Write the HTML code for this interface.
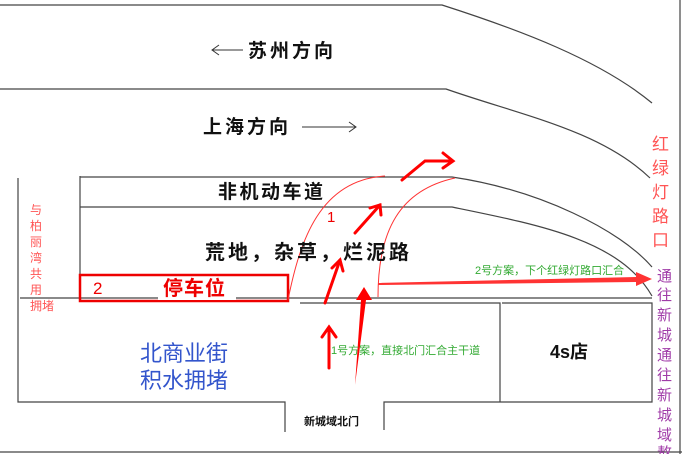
<!DOCTYPE html>
<html><head><meta charset="utf-8"><style>
body{margin:0;background:#fff}
svg{display:block;font-family:"Liberation Sans","Noto Sans CJK SC",sans-serif}
</style></head><body>
<svg width="682" height="454" viewBox="0 0 682 454" xmlns="http://www.w3.org/2000/svg">
<rect width="682" height="454" fill="#fff"/>
<g stroke="#444" stroke-width="1.2" fill="none">
<path d="M0 5 H442 C520 30 600 60 652 103"/>
<path d="M0 89 H446 C520 115 600 130 650 178"/>
<path d="M80 177 H452 C540 190 620 230 652 267"/>
<path d="M80 207 H452 C540 225 620 240 652 296"/>
<path d="M80 176 V298"/>
<path d="M20 298 H652"/>
<path d="M18 178 V402 H285 V432"/>
<path d="M300 303 H500 V402"/>
<path d="M502 303 H652 V402 H384 V430"/>
<path d="M0 452 H682"/>
<path d="M680 0 V454"/>
</g>
<!-- parking box -->
<rect x="80" y="275" width="208" height="26" fill="none" stroke="#e00" stroke-width="2.5"/>
<rect x="158" y="278" width="78" height="22" fill="#fff"/>
<text x="93" y="294" font-size="17" fill="#e00">2</text>
<text x="163" y="295" font-size="20" font-weight="bold" fill="#e00" letter-spacing="1">停车位</text>
<!-- thin red curves -->
<g stroke="#f33" stroke-width="1" fill="none">
<path d="M288 300 C300 240 320 180 385 176"/>
<path d="M378 297 C378 230 400 190 455 178"/>
</g>
<!-- red arrows -->
<g stroke="#f00" stroke-width="3" fill="none" stroke-linecap="round">
<path d="M325 303 L340 260"/><path d="M332 268 L340 260 L343 271"/>
<path d="M355 233 L380 205"/><path d="M370 208 L380 205 L381 215"/>
<path d="M402 180 L425 161 H450"/><path d="M443 153 L453 161 L443 168"/>
<path d="M329 368 V328"/><path d="M322 337 L329 327 L336 337"/>
</g>
<polygon points="355,385 361,300 356,300 364,287 372,300 366,300" fill="#f00"/>
<polygon points="378,283 636,277 636,272 652,279 636,286 636,282 378,285" fill="#f33"/>
<!-- texts -->
<g fill="#111" font-weight="bold">
<text x="248" y="57" font-size="19" letter-spacing="3">苏州方向</text>
<text x="203" y="133" font-size="19" letter-spacing="3">上海方向</text>
<text x="218" y="198" font-size="19" letter-spacing="2.5">非机动车道</text>
<text x="205" y="259" font-size="20" letter-spacing="3">荒地，杂草，烂泥路</text>
<text x="550" y="358" font-size="18">4s店</text>
<text x="304" y="425" font-size="11">新城域北门</text>
</g>
<g stroke="#333" stroke-width="1" fill="none">
<path d="M243 50 H212 M219 45 L212 50 L219 55"/>
<path d="M302 127 H356 M349 122 L356 127 L349 132"/>
</g>
<text x="327" y="222" font-size="15" fill="#e00">1</text>
<text x="140" y="361" font-size="22" fill="#3355cc">北商业街</text>
<text x="140" y="388" font-size="22" fill="#3355cc">积水拥堵</text>
<text x="331" y="354" font-size="11" fill="#3a3">1号方案，直接北门汇合主干道</text>
<text x="475" y="274" font-size="11" fill="#3a3">2号方案，下个红绿灯路口汇合</text>
<g font-size="12" fill="#f55">
<text x="30" y="214">与</text><text x="30" y="230">柏</text><text x="30" y="246">丽</text><text x="30" y="262">湾</text><text x="30" y="278">共</text><text x="30" y="294">用</text><text x="30" y="310">拥堵</text>
</g>
<g font-size="17" fill="#f55">
<text x="652" y="150">红</text><text x="652" y="174">绿</text><text x="652" y="198">灯</text><text x="652" y="222">路</text><text x="652" y="246">口</text>
</g>
<g font-size="15" fill="#a03ca8">
<text x="657" y="281">通</text><text x="657" y="300">往</text><text x="657" y="320">新</text><text x="657" y="340">城</text><text x="657" y="360">通</text><text x="657" y="380">往</text><text x="657" y="400">新</text><text x="657" y="420">城</text><text x="657" y="440">域</text><text x="657" y="458">熬</text>
</g>
</svg>
</body></html>
